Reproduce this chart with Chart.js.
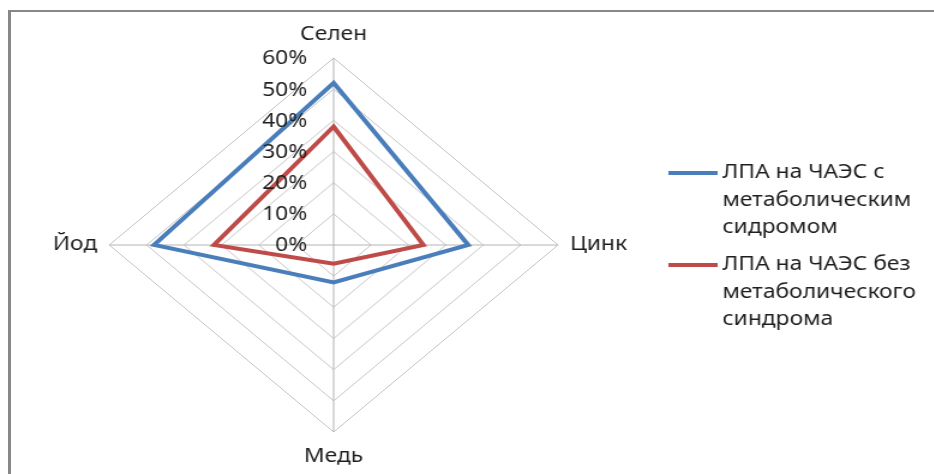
<!DOCTYPE html>
<html>
<head>
<meta charset="utf-8">
<script src="https://cdn.jsdelivr.net/npm/chart.js@4/dist/chart.umd.min.js"></script>
<style>
  html, body { margin: 0; padding: 0; background: #fff; }
  body { width: 934px; height: 474px; position: relative; overflow: hidden; }
  #frame {
    position: absolute; left: 8px; top: 10px; width: 926px; height: 464px;
    border-top: 2px solid #878787; border-left: 3px solid #878787;
  }
  /* the picture is stretched sideways, so the canvas is drawn narrow and widened */
  #wrap {
    position: absolute; left: 0; top: 0; width: 778px; height: 474px;
    transform: scaleX(1.2); transform-origin: 0 0;
  }
</style>
</head>
<body>
<div id="frame"></div>
<div id="wrap"><canvas id="chart" width="778" height="474"></canvas></div>
<script>
const categories = ['Селен', 'Цинк', 'Медь', 'Йод'];
const withSyndrome = [52, 36, 12, 48];
const withoutSyndrome = [38, 24, 6, 32];
const tickValues = [0, 10, 20, 30, 40, 50, 60];
const tickLabels = ['0%', '10%', '20%', '30%', '40%', '50%', '60%'];
const legendLines = [
    ['ЛПА на ЧАЭС с', 'метаболическим', 'сидромом'],
    ['ЛПА на ЧАЭС без', 'метаболического', 'синдрома']
];

const FONT = '19px "Noto Sans", sans-serif';
const TEXT = '#1e1e1e';

// tick labels, category labels and the wrapped legend
const textPlugin = {
    id: 'texts',
    afterDraw(chart) {
        const ctx = chart.ctx;
        const s = chart.scales.r;
        ctx.save();
        ctx.font = FONT;
        ctx.fillStyle = TEXT;

        ctx.textAlign = 'right';
        ctx.textBaseline = 'middle';
        tickValues.forEach((v, i) => {
            const y = s.yCenter - s.getDistanceFromCenterForValue(v);
            ctx.fillText(tickLabels[i], s.xCenter - 22, y + 1);
        });

        const r = s.drawingArea;
        const place = [
            { d: 23, align: 'center' },
            { d: 10, align: 'left' },
            { d: 25, align: 'center' },
            { d: 10, align: 'right' }
        ];
        categories.forEach((c, i) => {
            const p = s.getPointPosition(i, r + place[i].d);
            ctx.textAlign = place[i].align;
            ctx.fillText(c, p.x, p.y);
        });

        ctx.textAlign = 'left';
        const tops = [173, 265];
        chart.data.datasets.forEach((ds, i) => {
            const y0 = tops[i];
            ctx.strokeStyle = ds.borderColor;
            ctx.lineWidth = 4;
            ctx.beginPath();
            ctx.moveTo(557, y0);
            ctx.lineTo(598, y0);
            ctx.stroke();
            legendLines[i].forEach((t, k) => {
                ctx.fillText(t, 602, y0 + k * 27.5);
            });
        });
        ctx.restore();
    }
};

new Chart(document.getElementById('chart'), {
    type: 'radar',
    data: {
        labels: categories,
        datasets: [
            {
                label: legendLines[0].join(' '),
                data: withSyndrome,
                borderColor: '#4a7ebb',
                borderWidth: 4,
                borderJoinStyle: 'miter',
                fill: false,
                pointRadius: 0
            },
            {
                label: legendLines[1].join(' '),
                data: withoutSyndrome,
                borderColor: '#be4b48',
                borderWidth: 4,
                borderJoinStyle: 'miter',
                fill: false,
                pointRadius: 0
            }
        ]
    },
    options: {
        responsive: false,
        animation: false,
        layout: { padding: { left: 91.3, right: 312.7, top: 57.5, bottom: 41.5 } },
        plugins: { legend: { display: false }, tooltip: { enabled: false } },
        scales: {
            r: {
                min: 0,
                max: 60,
                ticks: { stepSize: 10, display: false },
                grid: { color: '#c4c4c4', lineWidth: 1, circular: false },
                angleLines: { color: '#b4b4b4', lineWidth: 1 },
                pointLabels: { display: false }
            }
        }
    },
    plugins: [textPlugin]
});
</script>
</body>
</html>
